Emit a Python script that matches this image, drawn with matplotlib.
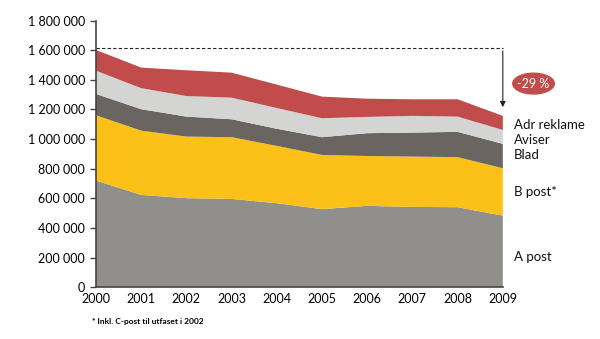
import numpy as np
import matplotlib
matplotlib.use("Agg")
import matplotlib.pyplot as plt
from matplotlib.patches import Ellipse

plt.rcParams["font.family"] = ["Lato", "DejaVu Sans"]

years = [2000, 2001, 2002, 2003, 2004, 2005, 2006, 2007, 2008, 2009]

# volumes per category
a_post = [720000, 623000, 601000, 596000, 567000, 527000, 549000, 542000, 540000, 483000]
b_post = [441000, 434000, 416000, 417000, 387000, 366000, 337000, 340000, 338000, 320000]
blad = [144000, 145000, 135000, 121000, 116000, 120000, 154000, 162000, 171000, 165000]
aviser = [157000, 142000, 139000, 146000, 140000, 128000, 110000, 113000, 103000, 94000]
adr_reklame = [140000, 139000, 174000, 169000, 158000, 146000, 123000, 112000, 117000, 95000]

series_names = ["A post", "B post*", "Blad", "Aviser", "Adr reklame"]
colors = ["#918f8c", "#fcc116", "#6b6561", "#d4d4d2", "#c04d4b"]
label_y = [205000, 643000, 893000, 994000, 1096000]

y_ticks = np.arange(0, 1800001, 200000)
y_labels = [f"{v:,}".replace(",", " ") for v in y_ticks]

fig = plt.figure(figsize=(6, 3.39), dpi=100)
ax = fig.add_axes([0.16, 0.153, 0.678, 0.786])

ax.stackplot(years, a_post, b_post, blad, aviser, adr_reklame,
             colors=colors, linewidth=0)

ax.set_xlim(2000, 2009)
ax.set_ylim(0, 1800000)
ax.set_yticks(y_ticks)
ax.set_yticklabels(y_labels, fontsize=9)
ax.set_xticks(years)
ax.set_xticklabels([str(y) for y in years], fontsize=9)
ax.tick_params(axis="x", length=0, pad=4)
ax.tick_params(axis="y", length=4, width=1, color="#444444", pad=4)
for side in ["top", "right"]:
    ax.spines[side].set_visible(False)
for side in ["left", "bottom"]:
    ax.spines[side].set_color("#444444")
    ax.spines[side].set_linewidth(1.2)

# change annotation
total = np.sum([a_post, b_post, blad, aviser, adr_reklame], axis=0)
ax.plot([2000, 2009], [total[0] + 12000] * 2, ls=(0, (3, 2)), color="#222222", lw=0.8, clip_on=False)
ax.annotate("", xy=(2009, total[-1] + 40000), xytext=(2009, total[0] + 12000),
            arrowprops=dict(arrowstyle="-|>", color="#222222", lw=0.8, mutation_scale=8),
            annotation_clip=False)
ax.add_patch(Ellipse((2009.68, 1375000), 0.92, 140000, color="#c04d4b", clip_on=False))
ax.text(2009.68, 1375000, "-29 %", color="white", fontsize=9, ha="center", va="center")

for name, y in zip(series_names, label_y):
    ax.text(2009.25, y, name, fontsize=9.5, ha="left", va="center", color="#111111")

fig.text(0.153, 0.043, "* Inkl. C-post til utfaset i 2002", fontsize=6, fontweight="bold")

fig.savefig("out.png", dpi=100)
